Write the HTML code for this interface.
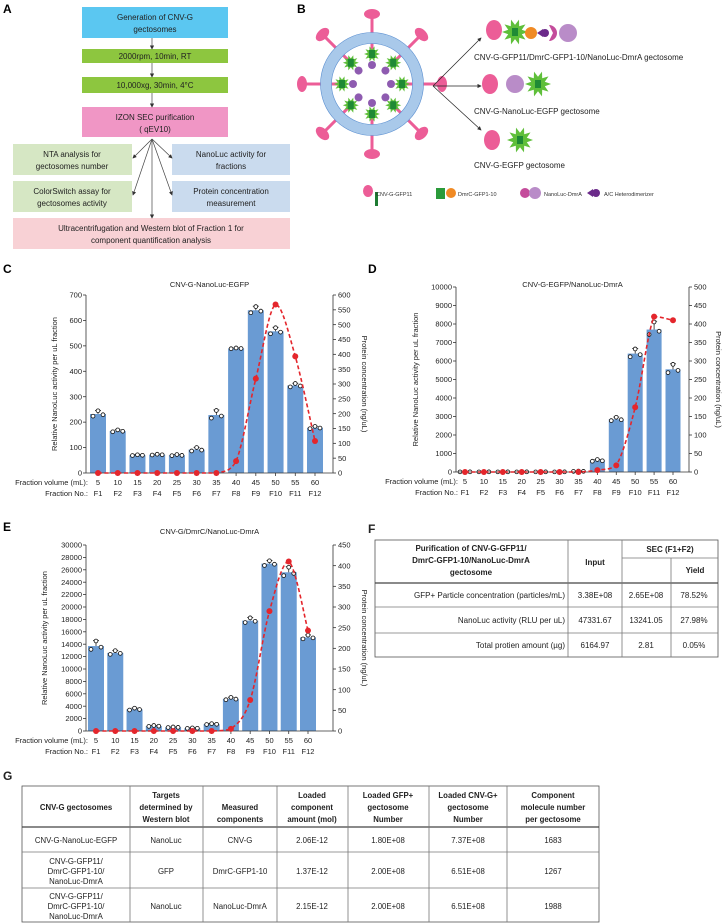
<!DOCTYPE html>
<html><head><meta charset="utf-8"><style>
html,body{margin:0;padding:0;background:#fff;}
svg{display:block;font-family:"Liberation Sans",Arial,sans-serif;}
.t{font-size:8px;fill:#222}
.tk{font-size:7.5px;fill:#222}
.b{font-weight:bold}
</style></head><body>
<svg id="fig" width="723" height="924" viewBox="0 0 723 924" xmlns="http://www.w3.org/2000/svg">
<defs><marker id="ah" markerWidth="6" markerHeight="6" refX="5" refY="3" orient="auto"><path d="M0,0 L6,3 L0,6z" fill="#333"/></marker></defs>

<!-- Panel A -->
<g>
<text x="3" y="13" font-size="12" font-weight="bold">A</text>
<rect x="82" y="7" width="146" height="31" fill="#5bc7f1"/>
<text x="155" y="20" class="t" font-size="9" text-anchor="middle">Generation of CNV-G</text><text x="155" y="32" class="t" font-size="9" text-anchor="middle">gectosomes</text>
<rect x="82" y="49" width="146" height="14" fill="#8dc63f"/>
<text x="155" y="59" class="t" font-size="9" text-anchor="middle">2000rpm, 10min, RT</text>
<rect x="82" y="77" width="146" height="16" fill="#8dc63f"/>
<text x="155" y="88" class="t" font-size="9" text-anchor="middle">10,000xg, 30min, 4°C</text>
<rect x="82" y="107" width="146" height="30" fill="#f096c5"/>
<text x="155" y="120" class="t" font-size="9" text-anchor="middle">IZON SEC purification</text><text x="155" y="132" class="t" font-size="9" text-anchor="middle">( qEV10)</text>
<rect x="13" y="144" width="119" height="31" fill="#d6e7c4"/>
<text x="72" y="157" class="t" font-size="9" text-anchor="middle">NTA analysis for</text><text x="72" y="169" class="t" font-size="9" text-anchor="middle">gectosomes number</text>
<rect x="172" y="144" width="118" height="31" fill="#cadbee"/>
<text x="231" y="157" class="t" font-size="9" text-anchor="middle">NanoLuc activity for</text><text x="231" y="169" class="t" font-size="9" text-anchor="middle">fractions</text>
<rect x="13" y="181" width="119" height="31" fill="#d6e7c4"/>
<text x="72" y="194" class="t" font-size="9" text-anchor="middle">ColorSwitch assay for</text><text x="72" y="206" class="t" font-size="9" text-anchor="middle">gectosomes activity</text>
<rect x="172" y="181" width="118" height="31" fill="#cadbee"/>
<text x="231" y="194" class="t" font-size="9" text-anchor="middle">Protein concentration</text><text x="231" y="206" class="t" font-size="9" text-anchor="middle">measurement</text>
<rect x="13" y="218" width="277" height="31" fill="#f8d1d5"/>
<text x="151" y="231" class="t" font-size="9" text-anchor="middle">Ultracentrifugation and Western blot of Fraction 1 for</text><text x="151" y="243" class="t" font-size="9" text-anchor="middle">component quantification analysis</text>
<g stroke="#444" stroke-width="0.7" marker-end="url(#ah)" fill="none">
<line x1="152" y1="38" x2="152" y2="49"/><line x1="152" y1="63" x2="152" y2="77"/><line x1="152" y1="93" x2="152" y2="107"/>
<line x1="152" y1="139" x2="133" y2="158"/><line x1="152" y1="139" x2="172" y2="158"/>
<line x1="152" y1="139" x2="133" y2="195"/><line x1="152" y1="139" x2="172" y2="195"/><line x1="152" y1="139" x2="152" y2="218"/>
</g></g>

<!-- Panel B -->
<g>
<text x="297" y="13" font-size="12" font-weight="bold">B</text>
<g id="virus"></g>
<g stroke="#222" stroke-width="0.7" marker-end="url(#ah)">
<line x1="433" y1="86" x2="481" y2="38"/><line x1="433" y1="86" x2="481" y2="86"/><line x1="433" y1="86" x2="481" y2="130"/></g>
<g id="icons"></g>
<text x="474" y="60" class="t" font-size="8.5">CNV-G-GFP11/DmrC-GFP1-10/NanoLuc-DmrA gectosome</text>
<text x="474" y="114" class="t" font-size="8.5">CNV-G-NanoLuc-EGFP gectosome</text>
<text x="474" y="168" class="t" font-size="8.5">CNV-G-EGFP gectosome</text>
<g>
<ellipse cx="368" cy="191" rx="5" ry="6" fill="#ec5d97"/><rect x="375" y="192" width="3" height="14" fill="#1e7b32"/>
<text x="376" y="196" font-size="5.5" fill="#333">CNV-G-GFP11</text>
<rect x="436" y="188" width="9" height="11" fill="#2a9a3a"/><circle cx="451" cy="193" r="5" fill="#f08a24"/>
<text x="458" y="196" font-size="5.5" fill="#333">DmrC-GFP1-10</text>
<circle cx="525" cy="193" r="5" fill="#c44c9b"/><circle cx="535" cy="193" r="6" fill="#b98cc8"/>
<text x="544" y="196" font-size="5.5" fill="#333">NanoLuc-DmrA</text>
<path d="M587,193 l6,-4 v8z" fill="#6b2a8a"/><circle cx="596" cy="193" r="4" fill="#6b2a8a"/>
<text x="604" y="196" font-size="5.5" fill="#333">A/C Heterodimerizer</text>
</g></g>

<g id="charts"></g>

<!-- Panel F -->
<g font-size="8" fill="#222">
<text x="368" y="533" font-size="12" font-weight="bold">F</text>
<g stroke="#777" stroke-width="0.8" fill="none">
<rect x="375" y="540" width="343" height="117" stroke="#555"/>
<line x1="375" y1="583" x2="718" y2="583" stroke="#444" stroke-width="1.2"/>
<line x1="375" y1="607" x2="718" y2="607"/><line x1="375" y1="633" x2="718" y2="633"/>
<line x1="568" y1="540" x2="568" y2="657"/><line x1="622" y1="558" x2="622" y2="657"/><line x1="671" y1="558" x2="671" y2="657"/>
<line x1="622" y1="540" x2="622" y2="558"/><line x1="622" y1="558" x2="718" y2="558"/>
</g>
<g font-weight="bold" text-anchor="middle">
<text x="471" y="551">Purification of CNV-G-GFP11/</text><text x="471" y="563">DmrC-GFP1-10/NanoLuc-DmrA</text><text x="471" y="575">gectosome</text>
<text x="595" y="565">Input</text><text x="670" y="552">SEC (F1+F2)</text><text x="695" y="573">Yield</text></g>
<g text-anchor="end"><text x="565" y="598">GFP+ Particle concentration (particles/mL)</text><text x="565" y="623">NanoLuc activity (RLU per uL)</text><text x="565" y="648">Total protien amount (µg)</text></g>
<g text-anchor="middle"><text x="595" y="598">3.38E+08</text><text x="646" y="598">2.65E+08</text><text x="694" y="598">78.52%</text>
<text x="595" y="623">47331.67</text><text x="646" y="623">13241.05</text><text x="694" y="623">27.98%</text>
<text x="595" y="648">6164.97</text><text x="646" y="648">2.81</text><text x="694" y="648">0.05%</text></g>
</g>

<!-- Panel G -->
<g font-size="7.8" fill="#222">
<text x="3" y="780" font-size="12" font-weight="bold">G</text>
<g stroke="#777" stroke-width="0.8" fill="none">
<rect x="22" y="786" width="577" height="136" stroke="#555"/>
<line x1="22" y1="827" x2="599" y2="827" stroke="#444" stroke-width="1.2"/>
<line x1="22" y1="852" x2="599" y2="852"/><line x1="22" y1="888" x2="599" y2="888"/>
<line x1="130" y1="786" x2="130" y2="922"/><line x1="203" y1="786" x2="203" y2="922"/><line x1="277" y1="786" x2="277" y2="922"/>
<line x1="348" y1="786" x2="348" y2="922"/><line x1="429" y1="786" x2="429" y2="922"/><line x1="507" y1="786" x2="507" y2="922"/>
</g>
<g font-weight="bold" text-anchor="middle">
<text x="76" y="810">CNV-G gectosomes</text>
<text x="166" y="798">Targets</text><text x="166" y="810">determined by</text><text x="166" y="822">Western blot</text>
<text x="240" y="810">Measured</text><text x="240" y="822">components</text>
<text x="312" y="798">Loaded</text><text x="312" y="810">component</text><text x="312" y="822">amount (mol)</text>
<text x="388" y="798">Loaded GFP+</text><text x="388" y="810">gectosome</text><text x="388" y="822">Number</text>
<text x="468" y="798">Loaded CNV-G+</text><text x="468" y="810">gectosome</text><text x="468" y="822">Number</text>
<text x="553" y="798">Component</text><text x="553" y="810">molecule number</text><text x="553" y="822">per gectosome</text></g>
<g text-anchor="middle">
<text x="76" y="843">CNV-G-NanoLuc-EGFP</text><text x="166" y="843">NanoLuc</text><text x="240" y="843">CNV-G</text><text x="312" y="843">2.06E-12</text><text x="388" y="843">1.80E+08</text><text x="468" y="843">7.37E+08</text><text x="553" y="843">1683</text>
<text x="76" y="864">CNV-G-GFP11/</text><text x="76" y="874">DmrC-GFP1-10/</text><text x="76" y="884">NanoLuc-DmrA</text>
<text x="166" y="874">GFP</text><text x="240" y="874">DmrC-GFP1-10</text><text x="312" y="874">1.37E-12</text><text x="388" y="874">2.00E+08</text><text x="468" y="874">6.51E+08</text><text x="553" y="874">1267</text>
<text x="76" y="899">CNV-G-GFP11/</text><text x="76" y="909">DmrC-GFP1-10/</text><text x="76" y="919">NanoLuc-DmrA</text>
<text x="166" y="909">NanoLuc</text><text x="240" y="909">NanoLuc-DmrA</text><text x="312" y="909">2.15E-12</text><text x="388" y="909">2.00E+08</text><text x="468" y="909">6.51E+08</text><text x="553" y="909">1988</text>
</g></g>
</svg>
<script>
// ---------- chart data ----------
const fractionVolumes = ["5","10","15","20","25","30","35","40","45","50","55","60"];
const fractionNames = ["F1","F2","F3","F4","F5","F6","F7","F8","F9","F10","F11","F12"];
const cNanoLuc = [232,165,70,72,70,92,228,490,640,557,344,178];
const cNanoLucSd = [14,5,2,2,3,9,20,2,16,16,9,6];
const cProtein = [0,0,0,0,0,0,0,40,318,568,393,108];
const cLeftTicks = [0,100,200,300,400,500,600,700];
const cRightTicks = [0,50,100,150,200,250,300,350,400,450,500,550,600];
const dNanoLuc = [10,10,10,10,10,10,40,620,2850,6400,7700,5550];
const dNanoLucSd = [5,5,5,5,5,5,15,60,120,280,450,300];
const dProtein = [0,0,0,0,0,0,0,5,18,175,420,410];
const dLeftTicks = [0,1000,2000,3000,4000,5000,6000,7000,8000,9000,10000];
const dRightTicks = [0,50,100,150,200,250,300,350,400,450,500];
const eNanoLuc = [13700,12600,3500,800,600,450,1100,5200,17800,27000,25600,15100];
const eNanoLucSd = [900,400,200,100,60,60,100,250,500,500,900,400];
const eProtein = [0,0,0,0,0,0,0,5,75,290,410,243];
const eLeftTicks = [0,2000,4000,6000,8000,10000,12000,14000,16000,18000,20000,22000,24000,26000,28000,30000];
const eRightTicks = [0,50,100,150,200,250,300,350,400,450];

const NS="http://www.w3.org/2000/svg";
function mk(tag,attrs,parent){const e=document.createElementNS(NS,tag);for(const k in attrs)e.setAttribute(k,attrs[k]);if(parent)parent.appendChild(e);return e;}
function txt(s,attrs,parent){const e=mk('text',attrs,parent);e.textContent=s;return e;}

function smoothPath(P){
  let d='M'+P[0][0]+','+P[0][1];
  for(let i=0;i<P.length-1;i++){
    const p0=P[Math.max(0,i-1)],p1=P[i],p2=P[i+1],p3=P[Math.min(P.length-1,i+2)];
    const lo=Math.min(p1[1],p2[1]),hi=Math.max(p1[1],p2[1]);
    const cl=y=>Math.max(lo,Math.min(hi,y));
    const c1x=p1[0]+(p2[0]-p0[0])/6,c1y=cl(p1[1]+(p2[1]-p0[1])/6);
    const c2x=p2[0]-(p3[0]-p1[0])/6,c2y=cl(p2[1]-(p3[1]-p1[1])/6);
    d+=` C${c1x.toFixed(1)},${c1y.toFixed(1)} ${c2x.toFixed(1)},${c2y.toFixed(1)} ${p2[0].toFixed(1)},${p2[1].toFixed(1)}`;
  }
  return d;
}

function drawChart(o){
  const root=document.getElementById('charts');
  const g=mk('g',{},root);
  
  
  const L=o.lMax, R=o.rMax;
  const yL=v=>o.yBot-(v/L)*(o.yBot-o.yTop);
  const yR=v=>o.yBot-(v/R)*(o.yBot-o.yTop);
  const n=o.bars.length;
  const xC=i=>o.xFirst+i*(o.xLast-o.xFirst)/(n-1);
  const lab=txt(o.letter,{x:o.lx,y:o.ly,'font-size':12,'font-weight':'bold'},g);
  
  
  const t=txt(o.title,{x:(o.x0+o.x1)/2,y:o.titleY,'font-size':7.5,'text-anchor':'middle',fill:'#222'},g);
  
  
  o.bars.forEach((v,i)=>{
    const r=mk('rect',{x:xC(i)-o.bw/2,y:yL(v),width:o.bw,height:o.yBot-yL(v),fill:'#6a9bd3'},g);
    
    
    const sd=o.sd[i], cx=xC(i);
    mk('line',{x1:cx,y1:yL(v),x2:cx,y2:yL(v+sd),stroke:'#222','stroke-width':0.8},g);
    mk('line',{x1:cx-3,y1:yL(v+sd),x2:cx+3,y2:yL(v+sd),stroke:'#222','stroke-width':0.8},g);
    const reps=[v-sd*0.6,v+sd*0.9,v-sd*0.2];
    [-5,0,5].forEach((dx,j)=>{
      const c=mk('circle',{cx:cx+dx,cy:yL(Math.max(0,reps[j])),r:1.9,fill:'#fff',stroke:'#111','stroke-width':0.8},g);
      
      
    });
  });
  mk('line',{x1:o.x0,y1:o.yTop,x2:o.x0,y2:o.yBot,stroke:'#333','stroke-width':0.8},g);
  mk('line',{x1:o.x1,y1:o.yTop,x2:o.x1,y2:o.yBot,stroke:'#333','stroke-width':0.8},g);
  mk('line',{x1:o.x0,y1:o.yBot,x2:o.x1,y2:o.yBot,stroke:'#333','stroke-width':0.8},g);
  o.lt.forEach(v=>{mk('line',{x1:o.x0-3,y1:yL(v),x2:o.x0,y2:yL(v),stroke:'#333','stroke-width':0.8},g);
    txt(String(v),{x:o.x0-4,y:yL(v)+2.6,class:'tk','text-anchor':'end'},g);});
  o.rt.forEach(v=>{mk('line',{x1:o.x1,y1:yR(v),x2:o.x1+3,y2:yR(v),stroke:'#333','stroke-width':0.8},g);
    txt(String(v),{x:o.x1+5,y:yR(v)+2.6,class:'tk'},g);});
  o.bars.forEach((v,i)=>mk('line',{x1:xC(i),y1:o.yBot,x2:xC(i),y2:o.yBot+3,stroke:'#333','stroke-width':0.8},g));
  const mid=(o.yTop+o.yBot)/2;
  const yt=txt('Relative NanoLuc activity per uL fraction',{x:o.ytx,y:mid,'font-size':7.5,fill:'#222','text-anchor':'middle',transform:`rotate(-90 ${o.ytx} ${mid})`},g);
  
  
  const rtt=txt('Protein concentration (ng/uL)',{x:o.rtx,y:mid,'font-size':7.5,fill:'#222','text-anchor':'middle',transform:`rotate(90 ${o.rtx} ${mid})`},g);
  
  
  txt('Fraction volume (mL):',{x:o.x0+2,y:o.yBot+12,class:'tk','text-anchor':'end','font-size':8},g);
  txt('Fraction No.:',{x:o.x0+2,y:o.yBot+23,class:'tk','text-anchor':'end','font-size':8},g);
  fractionVolumes.forEach((s,i)=>txt(s,{x:xC(i),y:o.yBot+12,class:'tk','text-anchor':'middle','font-size':8},g));
  fractionNames.forEach((s,i)=>txt(s,{x:xC(i),y:o.yBot+23,class:'tk','text-anchor':'middle','font-size':8},g));
  const P=o.prot.map((v,i)=>[xC(i),yR(v)]);
  const pl=mk('path',{d:smoothPath(P),fill:'none',stroke:'#e4262c','stroke-width':1.6,'stroke-dasharray':'4,2.5'},g);
  
  
  o.prot.forEach((v,i)=>{const c=mk('circle',{cx:xC(i),cy:yR(v),r:3,fill:'#e4262c'},g);
    
    });
}
drawChart({name:'chart-c-nanoluc-egfp',letter:'C',lx:3,ly:273,title:'CNV-G-NanoLuc-EGFP',titleY:287,x0:86,x1:333,yTop:295,yBot:473,xFirst:98,xLast:315,bw:16,lMax:700,rMax:600,bars:cNanoLuc,sd:cNanoLucSd,prot:cProtein,lt:cLeftTicks,rt:cRightTicks,ytx:57,rtx:362});
drawChart({name:'chart-d-egfp-dmra',letter:'D',lx:368,ly:273,title:'CNV-G-EGFP/NanoLuc-DmrA',titleY:287,x0:456,x1:689,yTop:287,yBot:472,xFirst:465,xLast:673,bw:15,lMax:10000,rMax:500,bars:dNanoLuc,sd:dNanoLucSd,prot:dProtein,lt:dLeftTicks,rt:dRightTicks,ytx:418,rtx:716});
drawChart({name:'chart-e-dmrc-dmra',letter:'E',lx:3,ly:531,title:'CNV-G/DmrC/NanoLuc-DmrA',titleY:534,x0:86,x1:333,yTop:545,yBot:731,xFirst:96,xLast:308,bw:16,lMax:30000,rMax:450,bars:eNanoLuc,sd:eNanoLucSd,prot:eProtein,lt:eLeftTicks,rt:eRightTicks,ytx:47,rtx:362});

(function(){
  const v=document.getElementById('virus');
  const cx=372,cy=84;
  function star(x,y,r,parent){let p='';for(let k=0;k<20;k++){const a=k*Math.PI/10;const rr=k%2?r*0.55:r;p+=(k?'L':'M')+(x+rr*Math.cos(a)).toFixed(1)+','+(y+rr*Math.sin(a)).toFixed(1);}mk('path',{d:p+'z',fill:'#5fbf3a'},parent);mk('rect',{x:x-3,y:y-4,width:6,height:8,fill:'#1f8a35'},parent);}
  for(let k=0;k<8;k++){const a=k*Math.PI/4-Math.PI/2;
    const x1=cx+34*Math.cos(a),y1=cy+34*Math.sin(a),x2=cx+66*Math.cos(a),y2=cy+66*Math.sin(a);
    mk('line',{x1:x1,y1:y1,x2:x2,y2:y2,stroke:'#ec5d97','stroke-width':3},v);
    mk('ellipse',{cx:cx+70*Math.cos(a),cy:cy+70*Math.sin(a),rx:8,ry:5,fill:'#ec5d97',transform:`rotate(${a*180/Math.PI+90} ${cx+70*Math.cos(a)} ${cy+70*Math.sin(a)})`},v);}
  mk('circle',{cx:cx,cy:cy,r:46,fill:'none',stroke:'#a9c9ea','stroke-width':11},v);
  mk('circle',{cx:cx,cy:cy,r:51.5,fill:'none',stroke:'#5b8fd0','stroke-width':0.6},v);
  mk('circle',{cx:cx,cy:cy,r:40.5,fill:'none',stroke:'#5b8fd0','stroke-width':0.6},v);
  for(let k=0;k<8;k++){const a=k*Math.PI/4-Math.PI/2;
    star(cx+30*Math.cos(a),cy+30*Math.sin(a),8,v);
    mk('circle',{cx:cx+19*Math.cos(a),cy:cy+19*Math.sin(a),r:4,fill:'#8e5bb0'},v);}
  const ic=document.getElementById('icons');
  mk('ellipse',{cx:494,cy:30,rx:8,ry:10,fill:'#ec5d97'},ic);star(515,32,13,ic);
  mk('circle',{cx:531,cy:33,r:6,fill:'#f08a24'},ic);mk('path',{d:'M537,33 l6,-4 v8z',fill:'#6b2a8a'},ic);mk('circle',{cx:545,cy:33,r:4,fill:'#6b2a8a'},ic);
  mk('path',{d:'M549,25 a8,8 0 1 1 0,16 l4,-8z',fill:'#c44c9b'},ic);mk('circle',{cx:568,cy:33,r:9,fill:'#b98cc8'},ic);
  mk('ellipse',{cx:490,cy:84,rx:8,ry:10,fill:'#ec5d97'},ic);mk('circle',{cx:515,cy:84,r:9,fill:'#b98cc8'},ic);star(538,84,13,ic);
  mk('ellipse',{cx:492,cy:140,rx:8,ry:10,fill:'#ec5d97'},ic);star(520,140,13,ic);
})();
</script>
</body></html>
